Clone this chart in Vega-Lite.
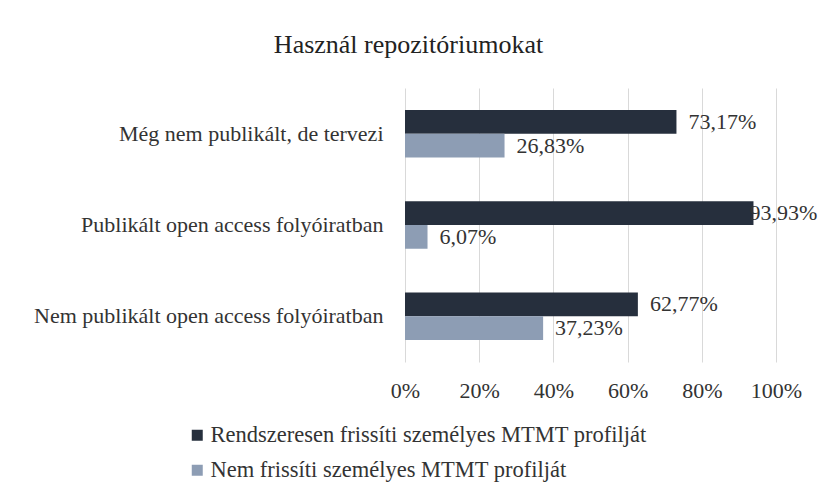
{
  "$schema": "https://vega.github.io/schema/vega-lite/v6.json",
  "width": 371,
  "height": 274,
  "padding": {"left": 33, "top": 32, "right": 0, "bottom": 0},
  "background": "white",
  "config": {
    "font": "Liberation Serif",
    "view": {"stroke": null}
  },
  "title": {
    "text": "Használ repozitóriumokat",
    "fontSize": 26,
    "font": "Liberation Serif",
    "fontWeight": "normal",
    "color": "#222222",
    "anchor": "middle",
    "frame": "group",
    "dx": -182,
    "offset": 30
  },
  "data": {
    "values": [
      {"category": "Még nem publikált, de tervezi", "series": "Rendszeresen frissíti személyes MTMT profilját", "value": 73.17, "label": "73,17%"},
      {"category": "Még nem publikált, de tervezi", "series": "Nem frissíti személyes MTMT profilját", "value": 26.83, "label": "26,83%"},
      {"category": "Publikált open access folyóiratban", "series": "Rendszeresen frissíti személyes MTMT profilját", "value": 93.93, "label": "93,93%"},
      {"category": "Publikált open access folyóiratban", "series": "Nem frissíti személyes MTMT profilját", "value": 6.07, "label": "6,07%"},
      {"category": "Nem publikált open access folyóiratban", "series": "Rendszeresen frissíti személyes MTMT profilját", "value": 62.77, "label": "62,77%"},
      {"category": "Nem publikált open access folyóiratban", "series": "Nem frissíti személyes MTMT profilját", "value": 37.23, "label": "37,23%"}
    ]
  },
  "encoding": {
    "y": {
      "field": "category",
      "type": "nominal",
      "sort": ["Még nem publikált, de tervezi", "Publikált open access folyóiratban", "Nem publikált open access folyóiratban"],
      "scale": {"paddingInner": 0.48, "paddingOuter": 0.24},
      "axis": {
        "title": null,
        "domain": false,
        "ticks": false,
        "labelFont": "Liberation Serif",
        "labelFontSize": 22,
        "labelColor": "#333333",
        "labelPadding": 22,
        "labelLimit": 500
      }
    },
    "yOffset": {
      "field": "series",
      "type": "nominal",
      "sort": ["Rendszeresen frissíti személyes MTMT profilját", "Nem frissíti személyes MTMT profilját"],
      "scale": {"paddingInner": 0, "paddingOuter": 0}
    },
    "x": {
      "field": "value",
      "type": "quantitative",
      "scale": {"domain": [0, 100], "nice": false},
      "axis": {
        "title": null,
        "values": [0, 20, 40, 60, 80, 100],
        "labelExpr": "datum.value + '%'",
        "labelFlush": false,
        "domain": false,
        "ticks": false,
        "grid": true,
        "gridColor": "#d9d9d9",
        "gridWidth": 1,
        "labelFont": "Liberation Serif",
        "labelFontSize": 22,
        "labelColor": "#333333",
        "labelPadding": 18
      }
    }
  },
  "layer": [
    {
      "mark": {"type": "bar"},
      "encoding": {
        "color": {
          "field": "series",
          "type": "nominal",
          "sort": ["Rendszeresen frissíti személyes MTMT profilját", "Nem frissíti személyes MTMT profilját"],
          "scale": {
            "domain": ["Rendszeresen frissíti személyes MTMT profilját", "Nem frissíti személyes MTMT profilját"],
            "range": ["#262f3d", "#8d9db4"]
          },
          "legend": {
            "title": null,
            "orient": "none",
            "direction": "vertical",
            "legendX": -219,
            "legendY": 336,
            "symbolType": "square",
            "symbolSize": 121,
            "symbolStrokeWidth": 0,
            "labelFont": "Liberation Serif",
            "labelFontSize": 22.5,
            "labelColor": "#333333",
            "labelOffset": 2,
            "rowPadding": 12,
            "labelLimit": 600
          }
        }
      }
    },
    {
      "transform": [{"filter": "datum.value < 90"}],
      "mark": {"type": "text", "align": "left", "baseline": "middle", "dx": 12, "fontSize": 22, "font": "Liberation Serif", "color": "#333333"},
      "encoding": {
        "text": {"field": "label"}
      }
    },
    {
      "transform": [{"filter": "datum.value >= 90"}],
      "mark": {"type": "text", "align": "left", "baseline": "middle", "dx": -4, "fontSize": 22, "font": "Liberation Serif", "color": "#333333"},
      "encoding": {
        "text": {"field": "label"}
      }
    }
  ]
}
